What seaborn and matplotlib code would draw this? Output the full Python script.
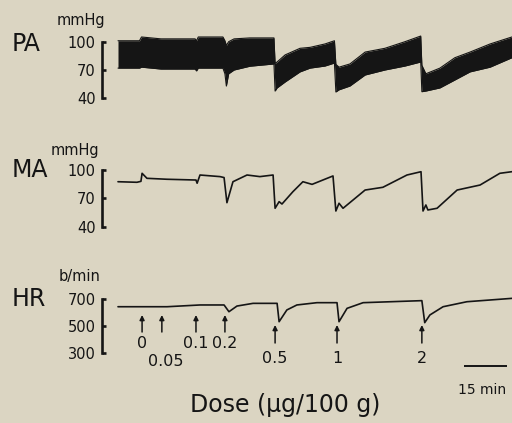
import matplotlib
matplotlib.use("Agg")
import matplotlib.pyplot as plt
import matplotlib.transforms as mtransforms
import pandas as pd
import seaborn as sns

# Figure geometry (pixels) and colours
W, H = 512, 423
BG = "#dbd5c2"
INK = "#151515"
MIN_PER_PX = 15 / 43.0          # 15 min scale bar is ~43 px wide
XLIM = (-16 * MIN_PER_PX, 394 * MIN_PER_PX)

# Pulmonary arterial pressure (systolic / diastolic envelope, mmHg)
pa_time = [0, 7.5, 8.2, 15.0, 26.9, 27.4, 28.0, 36.6, 37.3, 37.8, 38.6, 40.5,
           46.0, 54.4, 54.8, 55.5, 58.3, 63.5, 67.0, 72.2, 75.5, 76.0, 77.1,
           80.9, 86.2, 93.1, 100.1, 105.6, 106.0, 107.4, 112.3, 117.5, 122.8,
           129.8, 137.4]
pa_sys = [101, 101, 105, 103, 103, 101, 105, 105, 101, 96, 100, 103, 104, 104,
          77, 78.5, 86, 93, 94, 97.6, 101, 76, 73, 76.4, 89, 93, 100, 106, 75,
          66, 72, 83, 89, 97.6, 105]
pa_dia = [72, 72, 73, 71, 71, 69, 72, 72, 66, 53, 66, 70, 74, 76.4, 47.7, 51,
          57.3, 68, 72, 74.2, 77.4, 46.7, 49, 53, 64.7, 70, 74.2, 78.5, 47,
          47.7, 51, 59.4, 68, 73, 83]

# Mean arterial pressure (mmHg)
ma_time = [0, 6.6, 8.0, 8.4, 10.1, 17.1, 27.2, 27.6, 28.6, 35.6, 37.0, 38.0,
           40.1, 45.0, 49.5, 54.1, 54.8, 56.2, 57.2, 61.0, 64.5, 67.7, 75.0,
           76.0, 77.1, 78.5, 86.2, 92.4, 100.8, 105.7, 106.4, 107.4, 108.1,
           111.3, 118.3, 126.3, 133.2, 137.4]
ma_val = [87.6, 87.0, 88, 96.5, 91.2, 90.2, 89.4, 86.0, 94.7, 93.0, 92, 65.4,
          87.6, 94.7, 93.0, 94.7, 59.5, 66.5, 64.0, 77.0, 87.6, 84.8, 93.7,
          56.6, 64.8, 59.5, 78.8, 81.7, 94.7, 98.2, 56.6, 63.0, 57.7, 59.5,
          78.8, 84.1, 96.5, 98.2]

# Heart rate (b/min)
hr_time = [0, 17.1, 28.6, 37.0, 38.7, 41.5, 47.1, 55.5, 56.2, 58.9, 62.4,
           69.4, 76.4, 77.1, 79.9, 85.5, 106.0, 107.0, 108.8, 113.4, 121.7,
           137.4]
hr_val = [645, 645, 658, 658, 608, 650, 670, 670, 534, 621, 658, 675, 675, 534,
          633, 675, 690, 527, 584, 645, 682, 707]

# Injections
dose_labels = ["0", "0.05", "0.1", "0.2", "0.5", "1", "2"]
dose_time = [8.4, 15.3, 27.2, 37.3, 54.8, 76.4, 106.0]

sns.set_theme(style="white", rc={"figure.facecolor": BG, "savefig.facecolor": BG})
plt.rcParams["font.family"] = ["DejaVu Sans"]
plt.rcParams["text.color"] = INK


def fy(py):
    return 1 - py / H


def make_panel(fig, top, bottom, lo, y_lo, hi, y_hi):
    """Axes spanning pixel rows top..bottom, with value lo at row y_lo and hi at y_hi."""
    ax = fig.add_axes([102 / W, fy(bottom), (W - 102) / W, (bottom - top) / H])
    ax.set_facecolor("none")
    k = (hi - lo) / (y_lo - y_hi)
    ax.set_ylim(lo - (bottom - y_lo) * k, hi + (y_hi - top) * k)
    ax.set_xlim(*XLIM)
    for side in ("top", "right", "bottom"):
        ax.spines[side].set_visible(False)
    ax.spines["left"].set_bounds(lo, hi)
    ax.spines["left"].set_linewidth(1.9)
    ax.spines["left"].set_color(INK)
    ax.spines["left"].set_capstyle("projecting")
    ax.set_yticks([lo, (lo + hi) / 2, hi])
    ax.set_yticklabels([f"{v:g}" for v in (lo, (lo + hi) / 2, hi)])
    ax.tick_params(axis="y", direction="in", length=3.2, width=1.9, color=INK,
                   pad=4.5, labelsize=10.5, labelcolor=INK, left=True)
    ax.set_xticks([])
    ax.set(xlabel="", ylabel="")
    return ax


fig = plt.figure(figsize=(W / 100, H / 100), dpi=100)

# PA
ax_pa = make_panel(fig, 25, 112, 40, 98.3, 100, 41.7)
pa = pd.DataFrame({"t": pa_time, "sys": pa_sys, "dia": pa_dia})
ax_pa.fill_between(pa["t"], pa["dia"], pa["sys"], color=INK, lw=0)
sns.lineplot(data=pa, x="t", y="sys", ax=ax_pa, color=INK, lw=0.8,
             estimator=None, sort=False, legend=False)
sns.lineplot(data=pa, x="t", y="dia", ax=ax_pa, color=INK, lw=0.8,
             estimator=None, sort=False, legend=False)

# MA
ax_ma = make_panel(fig, 150, 235, 40, 226.7, 100, 170)
ma = pd.DataFrame({"t": ma_time, "v": ma_val})
sns.lineplot(data=ma, x="t", y="v", ax=ax_ma, color=INK, lw=1.2,
             estimator=None, sort=False, legend=False)

# HR
ax_hr = make_panel(fig, 285, 362, 300, 353.3, 700, 299.3)
hr = pd.DataFrame({"t": hr_time, "v": hr_val})
sns.lineplot(data=hr, x="t", y="v", ax=ax_hr, color=INK, lw=1.2,
             estimator=None, sort=False, legend=False)
for ax in (ax_pa, ax_ma, ax_hr):
    ax.set(xlabel="", ylabel="")

# Row titles and units
for name, unit, name_y, unit_x, unit_y in [("PA", "mmHg", 44, 81, 21),
                                           ("MA", "mmHg", 170, 75, 150),
                                           ("HR", "b/min", 299, 80, 276)]:
    fig.text(12 / W, fy(name_y), name, fontsize=17, ha="left", va="center")
    fig.text(unit_x / W, fy(unit_y), unit, fontsize=10.5, ha="center", va="center")

# Injection arrows and dose labels
trans = mtransforms.blended_transform_factory(ax_hr.transData, fig.transFigure)
arrow_rows = [(315, 332)] * 4 + [(325, 343)] * 3
label_rows = [343, 361, 343, 343, 358, 358, 358]
label_nudge = [0, 4, 0, 0, 0, 0, 0]
for lab, t, (head, tail), ly, dx in zip(dose_labels, dose_time, arrow_rows,
                                        label_rows, label_nudge):
    ax_hr.annotate("", xy=(t, fy(head)), xytext=(t, fy(tail)), xycoords=trans,
                   textcoords=trans, annotation_clip=False,
                   arrowprops=dict(arrowstyle="-|>", color=INK, lw=1.1,
                                   mutation_scale=7, shrinkA=0, shrinkB=0))
    ax_hr.text(t + dx * MIN_PER_PX, fy(ly), lab, transform=trans, fontsize=11.5,
               ha="center", va="center", clip_on=False)

# 15 min time bar
bar_start = (464 - 118) * MIN_PER_PX
ax_hr.plot([bar_start, bar_start + 15], [fy(366), fy(366)], transform=trans,
           color=INK, lw=1.4, clip_on=False, solid_capstyle="butt")
fig.text(458 / W, fy(390), "15 min", fontsize=10, ha="left", va="center")

fig.text(285 / W, fy(405), "Dose (\u03bcg/100 g)", fontsize=17, ha="center",
         va="center")

fig.savefig("out.png", dpi=100, facecolor=BG)
